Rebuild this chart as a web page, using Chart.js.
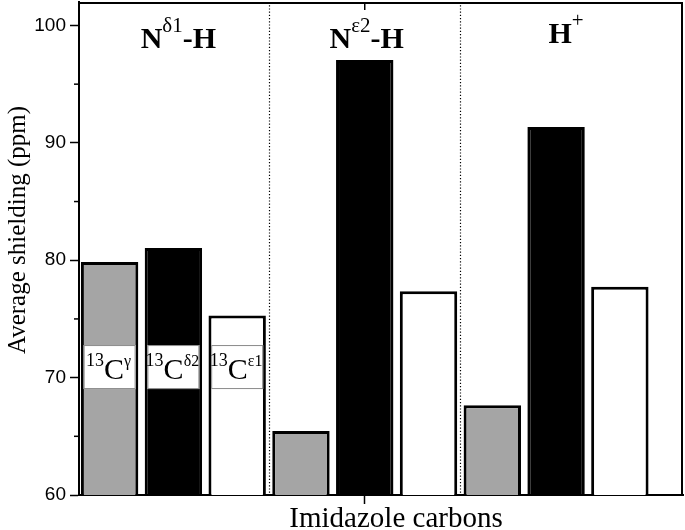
<!DOCTYPE html>
<html><head><meta charset="utf-8">
<script src="https://cdn.jsdelivr.net/npm/chart.js@4.4.1/dist/chart.umd.min.js"></script>
<style>html,body{margin:0;padding:0;background:#fff;}</style>
</head><body><canvas id="c" width="685" height="530"></canvas>
<script>
// ---- data ----
const groupBase = ['N', 'N', 'H'];
const groupSup  = ['δ1', 'ε2', '+'];
const groupTail = ['-H', '-H', ''];
const carbonSup = ['γ', 'δ2', 'ε1'];
const isotope = '13';
const cGamma  = [79.85, 65.45, 67.65];
const cDelta2 = [81.05, 97.05, 91.35];
const cEps1   = [75.3, 77.35, 77.75];
const yTitle = 'Average shielding (ppm)';
const xTitle = 'Imidazole carbons';

const SERIF = '"Liberation Serif", "Times New Roman", serif';
const toPts = (arr, k) => arr.map((v, g) => ({x: g * 3 + k + 1, y: v}));

function drawRuns(ctx, parts, cx, base) {
  let w = 0;
  parts.forEach(p => { ctx.font = p[1]; w += ctx.measureText(p[0]).width; });
  let xx = cx - w / 2;
  parts.forEach(p => { ctx.font = p[1]; ctx.fillText(p[0], xx, base + p[2]); xx += ctx.measureText(p[0]).width; });
}

const deco = {
  id: 'deco',
  afterDraw(chart) {
    const {ctx, chartArea: a, scales: {x, y}} = chart;
    ctx.save();
    ctx.strokeStyle = '#000';
    // top & right frame
    ctx.lineWidth = 2;
    ctx.beginPath(); ctx.moveTo(a.left, a.top + 1); ctx.lineTo(a.right - 1, a.top + 1); ctx.lineTo(a.right - 1, a.bottom); ctx.stroke();
    // top inward tick
    ctx.lineWidth = 1.5;
    x.ticks.forEach(t => {
      const tx = x.getPixelForValue(t.value);
      ctx.beginPath(); ctx.moveTo(tx, a.top); ctx.lineTo(tx, a.top + 8); ctx.stroke();
    });
    // minor y ticks
    y.ticks.forEach(t => {
      if (t.value % 10 !== 0) {
        const py = y.getPixelForValue(t.value);
        ctx.beginPath(); ctx.moveTo(a.left - 5, py); ctx.lineTo(a.left, py); ctx.stroke();
      }
    });
    // dotted separators between groups
    ctx.lineWidth = 1.2; ctx.setLineDash([1.2, 2]);
    for (let g = 1; g < groupBase.length; g++) {
      const px = Math.round(x.getPixelForValue(g * 3 + 0.5)) + 0.5;
      ctx.beginPath(); ctx.moveTo(px, a.top); ctx.lineTo(px, a.bottom); ctx.stroke();
    }
    ctx.setLineDash([]);
    // group titles
    ctx.fillStyle = '#000'; ctx.textAlign = 'left'; ctx.textBaseline = 'alphabetic';
    const shift = [5, 2, 10], base = [48, 48, 43], supDy = [-16, -16, -16];
    for (let g = 0; g < groupBase.length; g++) {
      const cx = x.getPixelForValue(g * 3 + 2) + shift[g];
      drawRuns(ctx, [
        [groupBase[g], 'bold 30px ' + SERIF, 0],
        [groupSup[g], '21px ' + SERIF, supDy[g]],
        [groupTail[g], 'bold 30px ' + SERIF, 0]
      ], cx, base[g]);
    }
    // carbon labels in first group
    const cy = y.getPixelForValue(70.9);
    for (let k = 0; k < carbonSup.length; k++) {
      const bx = x.getPixelForValue(k + 1);
      ctx.fillStyle = '#fff'; ctx.strokeStyle = '#8a8a8a'; ctx.lineWidth = 1;
      ctx.fillRect(bx - 26, cy - 22, 52, 44);
      ctx.strokeRect(bx - 25.5, cy - 21.5, 51, 43);
      ctx.fillStyle = '#000';
      drawRuns(ctx, [
        [isotope, '18px ' + SERIF, -13],
        ['C', '30px ' + SERIF, 0],
        [carbonSup[k], '16px ' + SERIF, -13]
      ], bx - 1, cy + 12);
    }
    // axis titles
    ctx.fillStyle = '#000'; ctx.textAlign = 'center';
    ctx.font = '25px ' + SERIF;
    ctx.save(); ctx.translate(25, 230); ctx.rotate(-Math.PI / 2); ctx.fillText(yTitle, 0, 0); ctx.restore();
    ctx.font = '29px ' + SERIF;
    ctx.fillText(xTitle, 396, 527);
    ctx.restore();
  }
};

const barCommon = {borderColor: '#000', borderWidth: 3, borderSkipped: false, grouped: false, barPercentage: 0.9, categoryPercentage: 1};

new Chart(document.getElementById('c'), {
  type: 'bar',
  data: {
    datasets: [
      Object.assign({label: isotope + 'C' + carbonSup[0], data: toPts(cGamma, 0), backgroundColor: '#a5a5a5'}, barCommon),
      Object.assign({label: isotope + 'C' + carbonSup[1], data: toPts(cDelta2, 1), backgroundColor: '#000'}, barCommon),
      Object.assign({label: isotope + 'C' + carbonSup[2], data: toPts(cEps1, 2), backgroundColor: '#fff'}, barCommon)
    ]
  },
  options: {
    responsive: false,
    animation: false,
    layout: {padding: {top: 2, right: 2, left: 0, bottom: 0}},
    plugins: {legend: {display: false}, tooltip: {enabled: false}},
    scales: {
      x: {
        type: 'linear', min: 0.52, max: 9.99, offset: false,
        afterBuildTicks: s => { s.ticks = [{value: 5}]; },
        afterFit: s => { s.height = 35; s.paddingLeft = 0; s.paddingRight = 0; },
        ticks: {display: false},
        grid: {offset: false, drawOnChartArea: false, drawTicks: true, tickLength: 9, tickColor: '#000', tickWidth: 1.5},
        border: {display: true, color: '#000', width: 2}
      },
      y: {
        type: 'linear', min: 60, max: 102,
        afterBuildTicks: s => { s.ticks = s.ticks.filter(t => t.value % 5 === 0 && t.value <= 100); },
        afterFit: s => { s.width = 79; s.paddingTop = 0; s.paddingBottom = 0; },
        ticks: {stepSize: 5, autoSkip: false, padding: 4, color: '#000',
          font: {family: '"Liberation Sans", Arial, sans-serif', size: 19},
          callback: v => (v % 10 === 0 ? v : '')},
        grid: {drawOnChartArea: false, drawTicks: true, tickLength: 9, tickWidth: 1.5,
          tickColor: c => (c.tick && c.tick.value % 10 === 0 ? '#000' : 'rgba(0,0,0,0)')},
        border: {display: true, color: '#000', width: 2}
      }
    }
  },
  plugins: [deco]
});
</script>
</body></html>
